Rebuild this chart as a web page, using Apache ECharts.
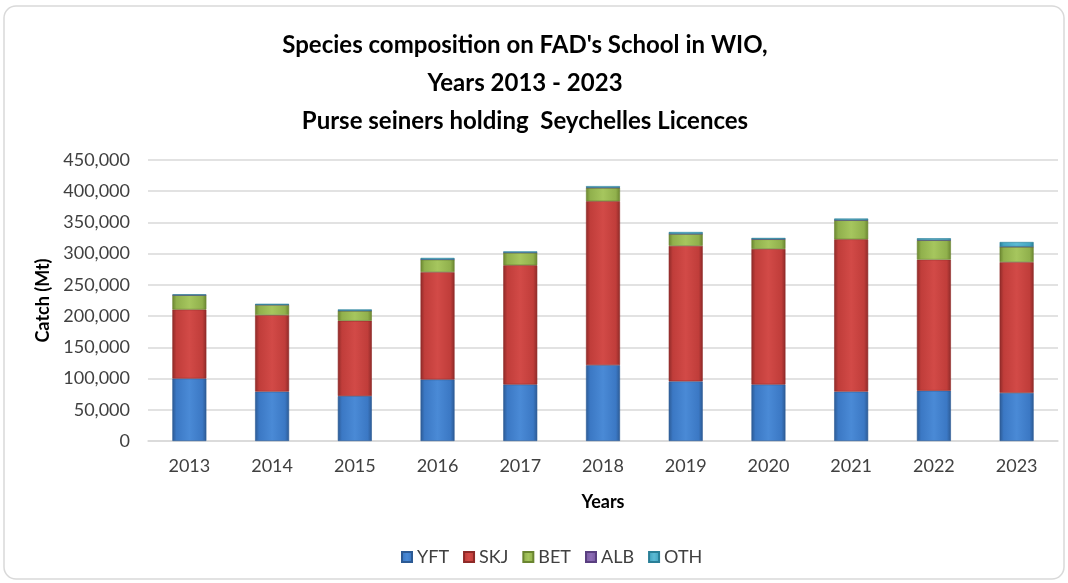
<!DOCTYPE html>
<html>
<head>
<meta charset="utf-8">
<script src="https://cdn.jsdelivr.net/npm/echarts@6/dist/echarts.min.js"></script>
<style>
html, body { margin: 0; padding: 0; background: #fff; }
#ct1 { width: 1068px; height: 583px; }
</style>
</head>
<body>
<div id="ct1"></div>
<script>
var years = ['2013', '2014', '2015', '2016', '2017', '2018', '2019', '2020', '2021', '2022', '2023'];
var yft = [100000, 79000, 72000, 98500, 90500, 121500, 95500, 90500, 79000, 80500, 77000];
var skj = [110500, 122500, 120500, 172000, 191000, 262500, 217000, 217000, 244000, 210000, 209500];
var bet = [23000, 16500, 16000, 20000, 20000, 21500, 19000, 15500, 30500, 31000, 24500];
var alb = [200, 200, 200, 200, 200, 200, 200, 200, 200, 200, 200];
var oth = [1000, 1500, 2000, 2500, 2000, 2500, 3000, 2000, 2500, 3000, 7500];

var font = 'Lato, "Open Sans", sans-serif';

function bevel(dark, mid, light) {
	return new echarts.graphic.LinearGradient(0, 0, 1, 0, [
		{ offset: 0, color: dark },
		{ offset: 0.12, color: mid },
		{ offset: 0.5, color: light },
		{ offset: 0.88, color: mid },
		{ offset: 1, color: dark }
	]);
}

function makeSeries(name, data, dark, mid, light) {
	return {
		name: name,
		type: 'bar',
		stack: 'total',
		barWidth: 34,
		data: data,
		itemStyle: {
			color: bevel(dark, mid, light),
			borderColor: dark,
			borderWidth: 0.6
		}
	};
}

var myChart1 = echarts.init(document.getElementById('ct1'));

var option1 = {
	animation: false,
	backgroundColor: '#fff',
	graphic: [{
		type: 'rect',
		shape: { x: 4, y: 6, width: 1060, height: 573, r: 12 },
		style: { fill: 'none', stroke: '#d9d9d9', lineWidth: 1.5 },
		silent: true
	}],
	title: {
		text: "Species composition on FAD's School in WIO,\nYears 2013 - 2023\nPurse seiners holding  Seychelles Licences",
		left: 520,
		textAlign: 'center',
		top: 21,
		textStyle: {
			fontFamily: font,
			fontSize: 24,
			fontWeight: 'bold',
			color: '#000',
			lineHeight: 38
		}
	},
	legend: {
		bottom: 12,
		left: 396,
		itemWidth: 10,
		itemHeight: 10,
		itemGap: 14,
		icon: 'rect',
		textStyle: { fontFamily: font, fontSize: 18, color: '#404040' },
		data: ['YFT', 'SKJ', 'BET', 'ALB', 'OTH']
	},
	grid: {
		left: 148,
		right: 10,
		top: 160,
		bottom: 142
	},
	xAxis: {
		type: 'category',
		data: years,
		name: 'Years',
		nameLocation: 'middle',
		nameGap: 52,
		nameTextStyle: { fontFamily: font, fontSize: 18, fontWeight: 'bold', color: '#000' },
		axisTick: { show: false },
		axisLine: { lineStyle: { color: '#d9d9d9', width: 1.5 } },
		axisLabel: { fontFamily: font, fontSize: 18, color: '#404040', margin: 16 }
	},
	yAxis: {
		type: 'value',
		min: 0,
		max: 450000,
		interval: 50000,
		name: 'Catch (Mt)',
		nameLocation: 'middle',
		nameGap: 94,
		nameTextStyle: { fontFamily: font, fontSize: 18, fontWeight: 'bold', color: '#000' },
		axisLine: { show: false },
		axisTick: { show: false },
		axisLabel: {
			fontFamily: font,
			fontSize: 18,
			color: '#404040',
			margin: 18,
			formatter: function (v) { return v.toLocaleString('en-US'); }
		},
		splitLine: { lineStyle: { color: '#d9d9d9', width: 1.5 } }
	},
	series: [
		makeSeries('YFT', yft, '#2c5a94', '#3b78c4', '#4a8ad6'),
		makeSeries('SKJ', skj, '#8e2a28', '#c03d3a', '#d24a47'),
		makeSeries('BET', bet, '#6a8530', '#90b04c', '#a6c65e'),
		makeSeries('ALB', alb, '#5a3f80', '#7b5ca3', '#8d6db6'),
		makeSeries('OTH', oth, '#2a7f97', '#45a6c2', '#5cbad4')
	]
};

myChart1.setOption(option1, true);
window.onresize = myChart1.resize;
</script>
</body>
</html>
